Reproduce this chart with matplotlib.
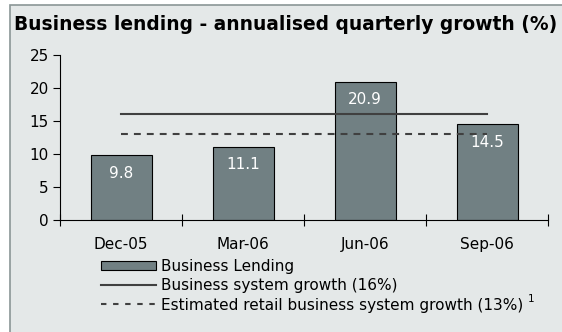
import matplotlib
matplotlib.use("Agg")
import matplotlib.pyplot as plt
from matplotlib.patches import Rectangle, Patch
from matplotlib.lines import Line2D

plt.rcParams['font.family'] = ['DejaVu Sans']

quarters = ["Dec-05", "Mar-06", "Jun-06", "Sep-06"]
business_lending = [9.8, 11.1, 20.9, 14.5]
system_growth = 16
retail_system_growth = 13
y_ticks = [0, 5, 10, 15, 20, 25]

bg = "#e4e8e8"
bar_color = "#718083"
line_color = "#404040"

fig = plt.figure(figsize=(5.62, 3.32), dpi=100)
fig.patch.set_facecolor("white")

# panel background with a thin frame on the left and top
panel = Rectangle((10 / 562, -0.05), 1.1, (332 - 5) / 332 + 0.05,
                  transform=fig.transFigure, facecolor=bg,
                  edgecolor="#8a9696", linewidth=1.2, zorder=-10)
fig.patches.append(panel)

fig.text(14 / 562, 1 - 25 / 332,
         "Business lending - annualised quarterly growth (%)",
         fontsize=13.4, fontweight="bold", ha="left", va="center")

ax = fig.add_axes([60 / 562, 112 / 332, 488 / 562, 165 / 332])
ax.set_facecolor("none")

x = list(range(len(quarters)))
ax.bar(x, business_lending, width=0.5, color=bar_color,
       edgecolor="black", linewidth=0.8, zorder=2)
ax.plot([x[0], x[-1]], [system_growth] * 2, color=line_color,
        linewidth=1.5, zorder=3)
ax.plot([x[0], x[-1]], [retail_system_growth] * 2, color=line_color,
        linewidth=1.5, dashes=(3.3, 2.9), zorder=3)

for xi, v in zip(x, business_lending):
    ax.text(xi, v - 2.7, f"{v:.1f}", color="white", fontsize=11,
            ha="center", va="center", zorder=4)

ax.set_xlim(-0.5, len(quarters) - 0.5)
ax.set_ylim(0, 25)
ax.set_yticks(y_ticks)
ax.set_yticklabels([str(t) for t in y_ticks], fontsize=11)
ax.set_xticks([i - 0.5 for i in range(len(quarters) + 1)])
ax.set_xticklabels([])
ax.set_xticks(x, minor=True)
ax.set_xticklabels(quarters, minor=True, fontsize=11)
ax.tick_params(axis="x", which="major", direction="inout", length=8,
               width=0.8)
ax.tick_params(axis="x", which="minor", length=0, pad=12)
ax.tick_params(axis="y", direction="out", length=5, width=0.8, pad=3)
for s in ("top", "right"):
    ax.spines[s].set_visible(False)
for s in ("left", "bottom"):
    ax.spines[s].set_linewidth(0.8)

handles = [
    Patch(facecolor=bar_color, edgecolor="black", linewidth=0.8),
    Line2D([], [], color=line_color, linewidth=1.5),
    Line2D([], [], color=line_color, linewidth=1.5, dashes=(2.6, 3.2)),
]
labels = [
    "Business Lending",
    "Business system growth (16%)",
    "Estimated retail business system growth (13%)",
]
leg = fig.legend(handles, labels, loc="upper left",
                 bbox_to_anchor=(101 / 562, 1 - 259 / 332), frameon=False,
                 fontsize=11, handlelength=3.6, handleheight=0.6,
                 handletextpad=0.35, labelspacing=0.28, borderpad=0,
                 borderaxespad=0)

# footnote marker after the last legend entry
fig.canvas.draw()
bb = leg.get_texts()[-1].get_window_extent()
fig.text((bb.x1 + 4) / 562, (bb.y1 + 4) / 332, "1", fontsize=7.5,
         ha="left", va="top")

fig.savefig("out.png", dpi=100, facecolor=fig.get_facecolor())
